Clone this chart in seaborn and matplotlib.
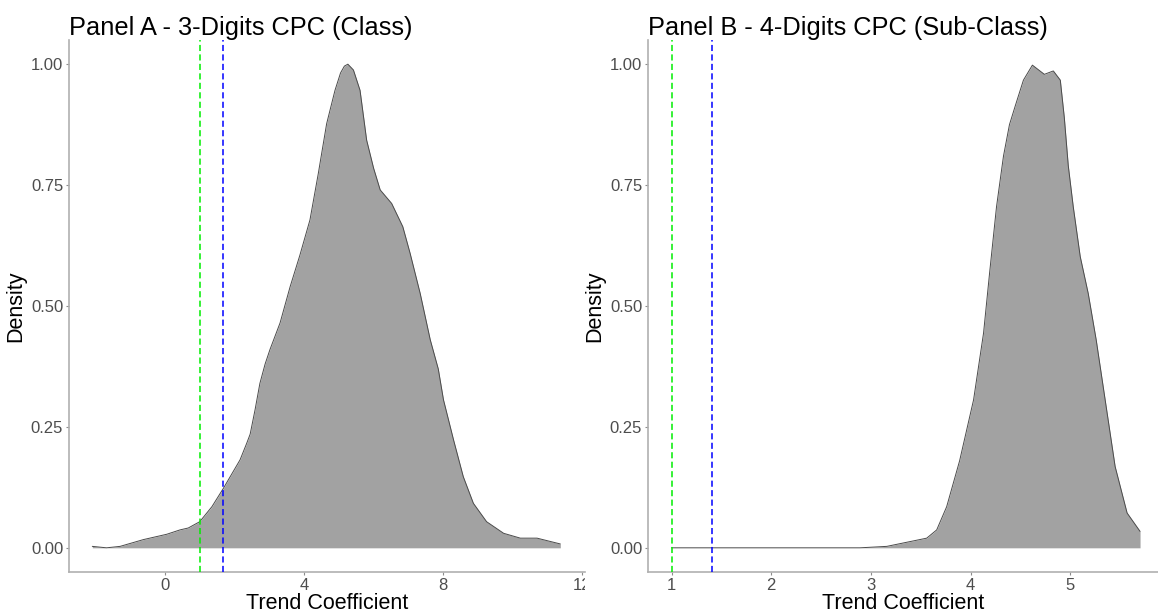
import matplotlib
matplotlib.use("Agg")
import matplotlib.pyplot as plt
import seaborn as sns
import pandas as pd
from matplotlib.transforms import Bbox, TransformedBbox

# ---- data (scaled density) ----
panel_a_x = [-2.09, -1.68, -1.29, -0.62, 0.05, 0.43, 0.67, 1.0, 1.35, 1.68, 2.16, 2.35, 2.45,
             2.59, 2.73, 2.88, 3.02, 3.31, 3.6, 3.88, 4.17, 4.41, 4.65, 4.89, 5.05, 5.16,
             5.26, 5.42, 5.61, 5.80, 6.0, 6.19, 6.52, 6.84, 7.05, 7.34, 7.63, 7.86, 8.01,
             8.3, 8.58, 8.87, 9.25, 9.74, 10.22, 10.7, 11.37]
panel_a_y = [0.003, 0.0, 0.003, 0.017, 0.028, 0.037, 0.041, 0.054, 0.085, 0.123, 0.182, 0.216,
             0.235, 0.285, 0.34, 0.38, 0.41, 0.465, 0.54, 0.605, 0.678, 0.774, 0.877, 0.946,
             0.982, 0.996, 1.0, 0.988, 0.946, 0.843, 0.785, 0.74, 0.712, 0.664, 0.609, 0.526,
             0.43, 0.37, 0.306, 0.223, 0.147, 0.092, 0.054, 0.030, 0.020, 0.020, 0.008]

panel_b_x = [1.0, 2.0, 2.89, 3.16, 3.56, 3.66, 3.76, 3.89, 4.03, 4.13, 4.19, 4.26, 4.33, 4.39,
             4.45, 4.53, 4.62, 4.74, 4.83, 4.90, 4.94, 4.98, 5.03, 5.10, 5.18, 5.26, 5.36,
             5.45, 5.57, 5.70]
panel_b_y = [0.0, 0.0, 0.0, 0.003, 0.02, 0.037, 0.085, 0.18, 0.306, 0.444, 0.567, 0.705, 0.81,
             0.875, 0.915, 0.967, 0.998, 0.979, 0.986, 0.967, 0.89, 0.79, 0.705, 0.602, 0.526,
             0.43, 0.292, 0.168, 0.072, 0.034]

panel_a_vlines = [1.0, 1.67]   # green, blue
panel_b_vlines = [1.0, 1.41]   # green, blue
vline_colors = ["#00ee00", "#0000ff"]

titles = ["Panel A - 3-Digits CPC (Class)", "Panel B - 4-Digits CPC (Sub-Class)"]
xticks_a = [0, 4, 8, 12]
xticks_b = [1, 2, 3, 4, 5]
yticks = [0.0, 0.25, 0.5, 0.75, 1.0]
ytick_labels = ["0.00", "0.25", "0.50", "0.75", "1.00"]

sns.set_theme(style="white")
plt.rcParams["font.family"] = ["Liberation Sans", "DejaVu Sans"]

W, H = 1158, 612
fig = plt.figure(figsize=(W / 100, H / 100), dpi=100)
ax_a = fig.add_axes([69 / W, (H - 572) / H, 516 / W, 532 / H])
ax_b = fig.add_axes([648 / W, (H - 572) / H, 510 / W, 532 / H])

panels = [
    (ax_a, panel_a_x, panel_a_y, panel_a_vlines, xticks_a, (-2.76, 12.08)),
    (ax_b, panel_b_x, panel_b_y, panel_b_vlines, xticks_b, (0.764, 5.88)),
]

for i, (ax, xs, ys, vls, xt, xl) in enumerate(panels):
    df = pd.DataFrame({"x": xs, "y": ys})
    ax.fill_between(df["x"], 0, df["y"], color="#a2a2a2", linewidth=0, zorder=1)
    sns.lineplot(data=df, x="x", y="y", ax=ax, sort=False, estimator=None,
                 color="#4a4a4a", linewidth=0.7, zorder=2)
    for v, c in zip(vls, vline_colors):
        ax.axvline(v, color=c, linestyle=(0, (4, 2.2)), linewidth=1.1, zorder=3)
    ax.set_xlim(*xl)
    ax.set_ylim(-0.05, 1.05)
    ax.set_xticks(xt)
    ax.set_xticklabels([str(t) for t in xt])
    ax.set_yticks(yticks)
    ax.set_yticklabels(ytick_labels)
    ax.tick_params(axis="both", which="both", length=2.2, width=0.8, color="#8c8c8c",
                   labelsize=12, labelcolor="#4d4d4d", pad=2, bottom=True, left=True)
    for s in ["top", "right"]:
        ax.spines[s].set_visible(False)
    for s in ["left", "bottom"]:
        ax.spines[s].set_color("#b0b0b0")
        ax.spines[s].set_linewidth(1.2)
    ax.set_xlabel("Trend Coefficient", fontsize=15.5, color="black", labelpad=0)
    ax.set_ylabel("Density", fontsize=15.5, color="black", labelpad=3)
    ax.set_title(titles[i], loc="left", fontsize=18.3, color="black", pad=2)
    ax.grid(False)

fig.canvas.draw()
# the reference cuts off the "12" label of panel A at the panel boundary
clip = TransformedBbox(Bbox([[0, 0], [585 / W, 1]]), fig.transFigure)
for lbl in ax_a.get_xticklabels():
    lbl.set_clip_box(clip)
    lbl.set_clip_on(True)

fig.savefig("out.png", dpi=100, facecolor="white")
